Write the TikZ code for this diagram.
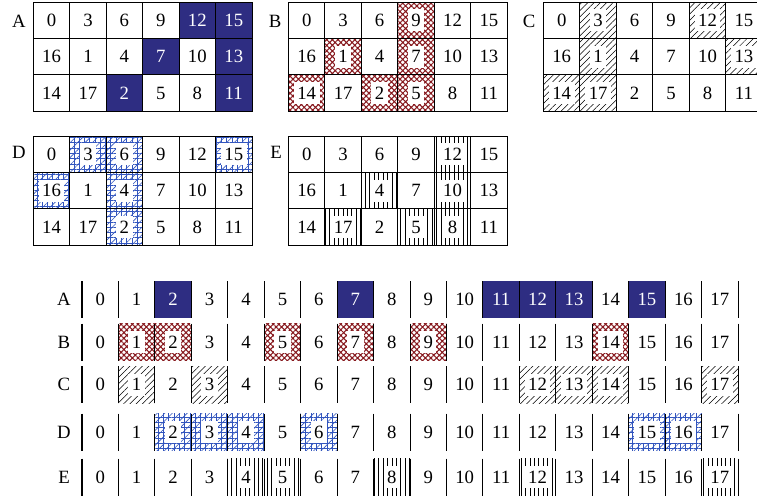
\documentclass[tikz,border=0pt]{standalone}
\usepackage{fontspec}
\setmainfont{Liberation Serif}
\usetikzlibrary{patterns.meta}
\definecolor{navy}{RGB}{46,45,130}
\definecolor{brick}{RGB}{135,25,30}
\definecolor{hblue}{RGB}{50,85,190}

\begin{document}
\begin{tikzpicture}[x=0.03cm, y=-0.03cm,
  font=\fontsize{16}{18}\selectfont,
  box/.style={draw=black, line width=0.8pt, minimum width=1.0935cm,
              minimum height=1.092cm, inner sep=0pt, outer sep=0pt},
  slot/.style={minimum width=1.0935cm, minimum height=1.11cm,
               inner sep=0pt, outer sep=0pt},
  num/.style={fill=white, inner xsep=3pt, inner ysep=0pt, minimum height=0.66cm},
  tag/.style={inner sep=0pt},
  mA/.style={fill=navy, text=white},
  mB/.style={preaction={fill=white}, pattern color=brick,
             pattern={Hatch[angle=45,distance=3.4pt,line width=0.9pt]}},
  mC/.style={preaction={fill=white}, pattern color=black,
             pattern={Lines[angle=45,distance=3.8pt,line width=0.45pt]}},
  mD/.style={preaction={fill=white},
             preaction={pattern color=hblue,
                        pattern={Hatch[angle=0,distance=4.5pt,line width=0.5pt]}},
             pattern color=hblue,
             pattern={Lines[angle=45,distance=4.5pt,line width=0.5pt]}},
  mE/.style={preaction={fill=white}, pattern color=black,
             pattern={Lines[angle=90,distance=3.8pt,line width=0.4pt]}},
  sep/.style={line width=0.9pt}]
\clip (0,0) rectangle (757,496);
% --- the 3x6 grids ---
\foreach \g/\gx/\gy in {A/33.3/2, B/288.5/2, C/543.5/2, D/33.3/136, E/288.5/136}{
  \foreach \n in {0,...,17}{
    \pgfmathtruncatemacro{\r}{mod(\n,3)}
    \pgfmathtruncatemacro{\c}{mod(int(\n/3)+\r,6)}
    \node[box] (\g-\n) at (\gx+18.2+36.45*\c, \gy+18.2+36.4*\r) {\n};
  }
}
\node[tag] (lA) at (19,21) {A};
\node[tag] (lB) at (275,21) {B};
\node[tag] (lC) at (529,21) {C};
\node[tag] (lD) at (19,152) {D};
\node[tag] (lE) at (276,152) {E};
% --- marked cells in the grids ---
\foreach \n in {2,7,11,12,13,15}
  \node[box, mA] (A-\n-m) at (A-\n) {\n};
\foreach \g/\s in {B/{1,2,5,7,9,14}, C/{1,3,12,13,14,17},
                   D/{2,3,4,6,15,16}, E/{4,5,8,10,12,17}}{
  \foreach \n in \s{
    \node[box, m\g] (\g-\n-m) at (\g-\n) {};
    \node[num] (\g-\n-t) at (\g-\n) {\n};
  }
}
% --- the rows 0..17 ---
\foreach \g/\y in {A/299.5, B/342, C/384.5, D/432, E/477}{
  \node[tag] (r\g) at (64,\y) {\g};
  \foreach \n in {0,...,17}
    \node[slot] (r\g-\n) at (100.2+36.45*\n, \y) {\n};
}
\foreach \n in {2,7,11,12,13,15}
  \node[slot, mA] (rA-\n-m) at (rA-\n) {\n};
\foreach \g/\s in {B/{1,2,5,7,9,14}, C/{1,3,12,13,14,17},
                   D/{2,3,4,6,15,16}, E/{4,5,8,12,17}}{
  \foreach \n in \s{
    \node[slot, m\g] (r\g-\n-m) at (r\g-\n) {};
    \node[num] (r\g-\n-t) at (r\g-\n) {\n};
  }
}
% separators
\foreach \g in {A,B,C,D,E}{
  \foreach \n in {0,...,17}
    \draw[sep] (r\g-\n.north west) -- (r\g-\n.south west);
  \draw[sep] (r\g-17.north east) -- (r\g-17.south east);
}
\end{tikzpicture}
\end{document}
